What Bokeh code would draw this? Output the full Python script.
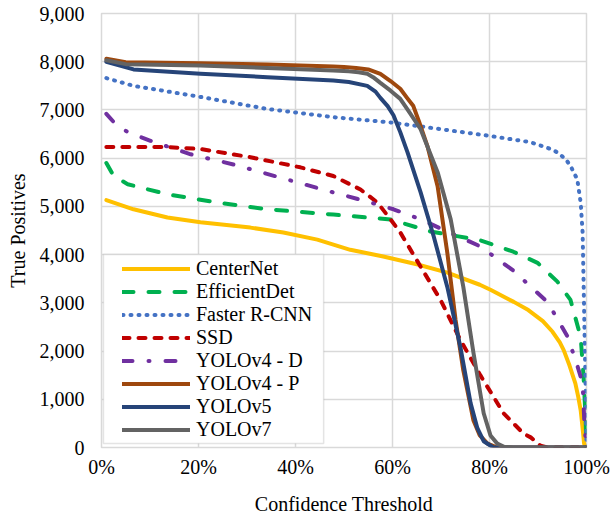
from bokeh.plotting import figure
from bokeh.models import (Legend, LegendItem, FixedTicker, NumeralTickFormatter,
                          PrintfTickFormatter, Range1d, BoxAnnotation)
from bokeh.embed import file_html
from bokeh.resources import INLINE

# Confidence threshold (%) and true-positive counts per detector
centernet_x = [1, 6.6, 13.6, 20.4, 30.7, 37.5, 44.5, 51.3, 58.1, 65, 71.3, 78, 80.2, 85, 88, 91, 93, 94.5, 95.3, 96.5, 97.7, 98.3, 98.8, 99.2, 99.5, 100]
centernet_y = [5130, 4940, 4770, 4670, 4560, 4460, 4310, 4100, 3960, 3800, 3625, 3375, 3270, 3020, 2850, 2620, 2400, 2180, 2020, 1700, 1330, 1050, 770, 400, 80, 0]

efficientdet_x = [1, 2.5, 5.4, 13.6, 23.9, 34.2, 47.8, 59.6, 67.8, 78, 84.9, 89.9, 94, 96.7, 98.8, 99.4, 99.8, 100]
efficientdet_y = [5900, 5630, 5460, 5250, 5080, 4940, 4830, 4730, 4480, 4300, 4060, 3830, 3440, 3060, 2290, 1460, 625, 0]

fasterrcnn_x = [1, 6.6, 20.4, 34.2, 47.8, 59.6, 66.4, 80.2, 88.5, 92.6, 94, 95.7, 96.7, 98.1, 98.8, 99.2, 99.4, 99.6, 99.8, 100]
fasterrcnn_y = [7660, 7500, 7270, 7020, 6850, 6740, 6650, 6460, 6330, 6190, 6120, 5980, 5840, 5560, 5080, 4460, 3420, 2370, 1330, 0]

ssd_x = [1, 13.6, 20.4, 30.7, 41, 47.8, 53.4, 56.9, 59.6, 61.6, 65.8, 69.9, 74, 78.1, 82.9, 87, 88.5, 90.5, 92, 100]
ssd_y = [6230, 6230, 6190, 6020, 5810, 5630, 5350, 5080, 4730, 4460, 3750, 3060, 2230, 1500, 710, 290, 210, 40, 0, 0]

yolov4d_x = [1, 2.5, 5.4, 10.1, 18.4, 27.2, 39.6, 47.8, 54.8, 60.2, 65.8, 78.1, 84.9, 92, 96.1, 98.1, 99.2, 99.6, 100]
yolov4d_y = [6920, 6750, 6540, 6360, 6080, 5870, 5520, 5290, 5100, 4940, 4730, 4170, 3670, 3010, 2300, 1700, 1330, 420, 0]

yolov4p_x = [1, 5, 20.4, 34.2, 47.8, 50, 52.5, 55, 57.5, 59.6, 61.6, 63, 64.3, 65.5, 67.2, 69.3, 71.3, 73, 74.6, 76.7, 78, 79.6, 81.6, 100]
yolov4p_y = [8060, 7990, 7970, 7940, 7900, 7890, 7870, 7840, 7750, 7600, 7440, 7250, 7080, 6750, 6250, 5420, 4040, 2650, 1600, 560, 250, 80, 0, 0]

yolov5_x = [1, 6.6, 20.4, 34.2, 47.8, 51, 54.8, 56.5, 57.5, 59, 60.2, 61.6, 63.1, 65.8, 68.5, 71.3, 74, 76.1, 77.5, 78.8, 80.8, 100]
yolov5_y = [8000, 7840, 7750, 7680, 7610, 7580, 7500, 7380, 7250, 7080, 6890, 6540, 6120, 5290, 4375, 3330, 2080, 920, 400, 130, 0, 0]

yolov7_x = [1, 5, 20.4, 34.2, 47.8, 51, 53, 54.8, 56, 57.5, 59.6, 61.6, 63.5, 65.8, 69.3, 72, 74.6, 76.7, 78.8, 80.2, 81.6, 83, 84.9, 100]
yolov7_y = [8030, 7950, 7920, 7870, 7820, 7800, 7780, 7750, 7680, 7560, 7400, 7230, 6950, 6600, 5710, 4730, 3330, 1960, 710, 250, 80, 15, 0, 0]

series_names = ["CenterNet", "EfficientDet", "Faster R-CNN", "SSD",
                "YOLOv4 - D", "YOLOv4 - P", "YOLOv5", "YOLOv7"]

x_ticks = [0, 20, 40, 60, 80, 100]
y_ticks = [0, 1000, 2000, 3000, 4000, 5000, 6000, 7000, 8000, 9000]

FONT = "Liberation Serif"
GRID = "#D9D9D9"

p = figure(width=611, height=518, output_backend="svg", toolbar_location=None,
           x_range=Range1d(0, 100), y_range=Range1d(0, 9000),
           min_border_left=101, min_border_right=25, min_border_top=13,
           min_border_bottom=71)
p.outline_line_color = GRID
p.outline_line_width = 1.5
p.background_fill_color = "white"
p.border_fill_color = "white"

for ax in (p.xaxis[0], p.yaxis[0]):
    ax.axis_line_color = None
    ax.major_tick_line_color = None
    ax.minor_tick_line_color = None
    ax.major_tick_out = 0
    ax.major_tick_in = 0
    ax.major_label_text_font = FONT
    ax.major_label_text_font_size = "20px"
    ax.major_label_text_color = "black"
    ax.axis_label_text_font = FONT
    ax.axis_label_text_font_size = "20px"
    ax.axis_label_text_font_style = "normal"
    ax.axis_label_text_color = "black"

p.xaxis.ticker = FixedTicker(ticks=x_ticks)
p.xaxis.formatter = PrintfTickFormatter(format="%d%%")
p.xaxis.axis_label = "Confidence Threshold"
p.xaxis.major_label_standoff = 8
p.xaxis.axis_label_standoff = 12

p.yaxis.ticker = FixedTicker(ticks=y_ticks)
p.yaxis.formatter = NumeralTickFormatter(format="0,0")
p.yaxis.axis_label = "True Positives"
p.yaxis.major_label_standoff = 17
p.yaxis.axis_label_standoff = 8

p.xgrid.ticker = FixedTicker(ticks=x_ticks)
p.ygrid.ticker = FixedTicker(ticks=y_ticks)
p.grid.grid_line_color = GRID
p.grid.grid_line_width = 1.5

W = 4
styles = [
    (centernet_x, centernet_y, "#FFC000", "solid"),
    (efficientdet_x, efficientdet_y, "#00B050", "11 15"),
    (fasterrcnn_x, fasterrcnn_y, "#4472C4", "1 7"),
    (ssd_x, ssd_y, "#C00000", "7 9"),
    (yolov4d_x, yolov4d_y, "#7030A0", "10 16 1 16"),
    (yolov4p_x, yolov4p_y, "#9E480E", "solid"),
    (yolov5_x, yolov5_y, "#264478", "solid"),
    (yolov7_x, yolov7_y, "#636363", "solid"),
]

items = []
for name, (xs, ys, color, dash) in zip(series_names, styles):
    r = p.line(xs, ys, line_color=color, line_width=W, line_dash=dash,
               line_cap="round", line_join="round")
    items.append(LegendItem(label=name, renderers=[r]))

# white legend frame covering the gridlines
p.add_layout(BoxAnnotation(left=0.4, right=45.8, bottom=85, top=4000,
                           fill_color="white", fill_alpha=1.0,
                           line_color="#A6A6A6", line_width=1.5))

legend = Legend(items=items, location=(21, 6), orientation="vertical",
                padding=0, margin=0, spacing=0,
                glyph_width=68, glyph_height=23, label_height=23,
                label_standoff=6,
                label_text_font=FONT, label_text_font_size="20px",
                label_text_color="black",
                border_line_color=None, background_fill_alpha=0.0)
p.add_layout(legend, "center")

open("out.html", "w").write(file_html(p, INLINE))
